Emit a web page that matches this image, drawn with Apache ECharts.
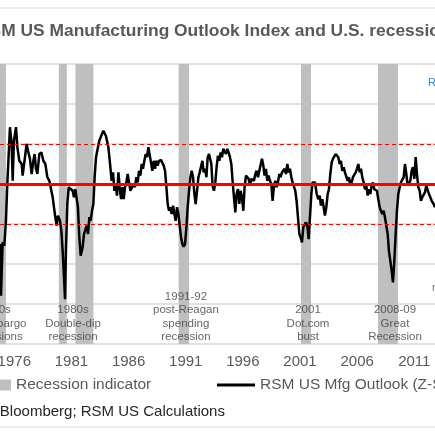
<!DOCTYPE html>
<html>
<head>
<meta charset="utf-8">
<title>RSM US Manufacturing Outlook Index</title>
<script src="https://cdn.jsdelivr.net/npm/echarts@6.0.0/dist/echarts.min.js"></script>
<style>
    html, body { margin: 0; padding: 0; background: #fff; }
    #main { width: 435px; height: 435px; }
</style>
</head>
<body>
<div id="main"></div>
<script type="text/javascript">
    // tick labels on the time axis
    var yearTicks = [1976, 1981, 1986, 1991, 1996, 2001, 2006, 2011];

    // recession bands (decimal years)
    var recStart = [1973.83, 1979.9, 1981.35, 1990.38, 2001.08, 2007.82];
    var recEnd   = [1975.27, 1980.6, 1982.92, 1991.29, 2001.96, 2009.57];

    // recession notes under the line
    var noteYears = [1974.33, 1981.14, 1991.02, 2001.7, 2009.31];
    var noteTexts = [
        '1970s\nOil embargo\nrecessions',
        '1980s\nDouble-dip\nrecession',
        '1991-92\npost-Reagan\nspending\nrecession',
        '2001\nDot.com\nbust',
        '2008-09\nGreat\nRecession'
    ];

    // RSM US Mfg Outlook (Z-score)
    var mfgYears = [
        1974.75, 1974.84, 1974.98, 1975.13, 1975.27, 1975.39, 1975.62, 1975.77, 1975.86, 1975.97,
        1976.15, 1976.27, 1976.44, 1976.65, 1976.73, 1976.85, 1976.97, 1977.08, 1977.2, 1977.37,
        1977.52, 1977.67, 1977.78, 1977.9, 1978.02, 1978.19, 1978.37, 1978.54, 1978.72, 1978.89,
        1979.07, 1979.18, 1979.36, 1979.47, 1979.59, 1979.71, 1979.82, 1980.0, 1980.12, 1980.23,
        1980.35, 1980.44, 1980.52, 1980.64, 1980.76, 1980.93, 1981.11, 1981.22, 1981.34, 1981.46,
        1981.57, 1981.69, 1981.81, 1981.98, 1982.1, 1982.22, 1982.33, 1982.45, 1982.57, 1982.68,
        1982.8, 1982.92, 1983.03, 1983.15, 1983.32, 1983.44, 1983.56, 1983.67, 1983.79, 1983.91,
        1984.02, 1984.23, 1984.38, 1984.52, 1984.64, 1984.76, 1984.87, 1984.99, 1985.11, 1985.22,
        1985.34, 1985.46, 1985.57, 1985.69, 1985.81, 1985.92, 1986.04, 1986.16, 1986.27, 1986.45,
        1986.56, 1986.68, 1986.8, 1986.91, 1987.03, 1987.15, 1987.26, 1987.38, 1987.5, 1987.61,
        1987.73, 1987.85, 1987.96, 1988.08, 1988.2, 1988.31, 1988.43, 1988.55, 1988.66, 1988.84,
        1988.96, 1989.07, 1989.19, 1989.31, 1989.42, 1989.54, 1989.66, 1989.77, 1989.89, 1990.01,
        1990.12, 1990.24, 1990.36, 1990.47, 1990.59, 1990.71, 1990.82, 1990.94, 1991.06, 1991.17,
        1991.29, 1991.41, 1991.52, 1991.64, 1991.76, 1991.87, 1991.99, 1992.11, 1992.22, 1992.34,
        1992.46, 1992.57, 1992.69, 1992.81, 1992.92, 1993.04, 1993.24, 1993.35, 1993.47, 1993.59,
        1993.7, 1993.82, 1993.94, 1994.05, 1994.17, 1994.29, 1994.4, 1994.52, 1994.64, 1994.75,
        1994.87, 1994.99, 1995.1, 1995.22, 1995.34, 1995.45, 1995.57, 1995.69, 1995.8, 1995.92,
        1996.04, 1996.15, 1996.27, 1996.39, 1996.5, 1996.62, 1996.74, 1996.85, 1996.97, 1997.09,
        1997.2, 1997.32, 1997.44, 1997.55, 1997.67, 1997.79, 1997.9, 1998.02, 1998.14, 1998.25,
        1998.37, 1998.49, 1998.6, 1998.72, 1998.84, 1998.95, 1999.07, 1999.19, 1999.3, 1999.42,
        1999.54, 1999.65, 1999.77, 1999.89, 2000.0, 2000.12, 2000.24, 2000.35, 2000.47, 2000.59,
        2000.7, 2000.82, 2000.94, 2001.05, 2001.17, 2001.29, 2001.4, 2001.52, 2001.64, 2001.75,
        2001.87, 2001.99, 2002.1, 2002.22, 2002.31, 2002.46, 2002.6, 2002.72, 2002.83, 2002.95,
        2003.07, 2003.18, 2003.3, 2003.42, 2003.53, 2003.65, 2003.77, 2003.88, 2004.0, 2004.12,
        2004.23, 2004.35, 2004.47, 2004.58, 2004.7, 2004.82, 2004.93, 2005.05, 2005.17, 2005.28,
        2005.4, 2005.52, 2005.63, 2005.75, 2005.87, 2005.98, 2006.1, 2006.22, 2006.33, 2006.45,
        2006.57, 2006.68, 2006.8, 2006.92, 2007.03, 2007.15, 2007.27, 2007.38, 2007.5, 2007.62,
        2007.73, 2007.85, 2007.97, 2008.08, 2008.2, 2008.32, 2008.43, 2008.55, 2008.67, 2008.78,
        2008.9, 2009.02, 2009.13, 2009.25, 2009.37, 2009.48, 2009.6, 2009.72, 2009.83, 2009.95,
        2010.07, 2010.18, 2010.3, 2010.42, 2010.53, 2010.65, 2010.77, 2010.88, 2011.0, 2011.12,
        2011.23, 2011.35, 2011.47, 2011.58, 2011.7, 2011.82, 2011.93, 2012.05, 2012.17, 2012.28,
        2012.4, 2012.52, 2012.69, 2012.8
    ];
    var mfgValues = [
        -1.5, -2.79, -1.46, -1.54, -0.92, 0, 1.42, 1.0, 0.08, 1.08,
        1.42, 0.92, 0.58, 0.5, 0.21, 0.25, 0.75, 1.0, 0.83, 0.63,
        0.25, 0.58, 0.75, 0.38, 0.25, 0.75, 0.79, 0.58, 0.5, 0.17,
        0.08, -0.08, -0.33, -0.58, -0.83, -1.04, -0.79, -0.92, -1.17, -1.67,
        -2.33, -2.88, -1.67, -0.5, -0.08, -0.07, -0.17, -0.33, -0.13, -0.17,
        -0.58, -1.33, -1.79, -1.58, -1.25, -1.21, -1.04, -1.25, -0.83, -0.92,
        -0.67, -0.5, 0.17, 0.67, 0.92, 1.08, 1.17, 1.25, 1.33, 1.29,
        1.2, 0.92, 0.5, 0.08, 0.29, -0.17, -0.04, -0.29, 0.29, -0.08,
        -0.38, -0.08, -0.38, -0.08, 0.04, 0.25, 0.04, -0.17, -0.21, 0,
        -0.08, 0.17, 0.04, 0.33, 0.21, 0.5, 0.38, 0.58, 0.75, 0.67,
        0.92, 0.96, 0.54, 0.33, 0.58, 0.38, 0.58, 0.46, 0.58, 0.6,
        0.63, 0.46, 0.33, -0.08, -0.5, -0.67, -0.58, -0.75, -0.54, -0.75,
        -0.92, -0.58, -0.75, -1.04, -1.33, -1.5, -1.57, -1.5, -1.08, -0.58,
        -0.17, 0.17, 0.33, 0.17, -0.25, -0.5, -0.17, 0.17, 0.29, 0.33,
        0.58, 0.29, 0.38, 0.17, 0.67, 0.75, 0.5, -0.04, -0.17, 0.04,
        0.42, 0.71, 0.58, 0.79, 0.67, 0.88, 0.83, 0.75, 0.88, 0.79,
        0.67, 0.5, 0.08, -0.33, -0.71, -0.25, -0.13, -0.5, -0.17, -0.33,
        -0.67, -0.08, 0.21, 0.25, 0.13, -0.04, 0.13, 0.17, 0.08, 0.25,
        0.33, 0.17, 0.33, 0.33, 0.63, 0.46, 0.21, 0.38, 0.08, 0.21,
        0.08, 0, -0.42, -0.04, 0.08, -0.08, 0.04, 0.25, 0.17, 0.29,
        0.25, 0.38, 0.25, 0.5, 0.29, 0.38, 0.17, 0.04, 0, -0.17,
        -0.42, -0.83, -1.25, -1.33, -1.46, -1.08, -1.13, -0.96, -1.04, -1.38,
        -0.83, -0.25, 0.04, 0.08, 0.04, -0.25, -0.38, -0.29, -0.54, -0.38,
        -0.58, -0.79, -0.58, -0.25, -0.13, 0.25, 0.54, 0.63, 0.67, 0.75,
        0.79, 0.67, 0.5, 0.58, 0.33, 0.42, 0.29, 0.33, 0.08, 0.17,
        -0.04, 0.04, 0.17, 0.21, 0.29, 0.38, 0.5, 0.29, 0.38, 0.17,
        0.04, -0.13, -0.04, -0.29, -0.13, -0.25, -0.04, 0.04, -0.13, -0.08,
        -0.17, -0.38, -0.58, -0.67, -0.75, -0.67, -0.83, -0.88, -1.25, -1.67,
        -1.92, -2.17, -2.46, -1.92, -1.25, -0.67, -0.25, -0.08, 0.04, 0,
        0.17, 0.5, 0.25, -0.04, -0.08, 0.08, 0.33, 0.42, 0.13, 0.67,
        0.25, -0.08, -0.17, -0.42, -0.33, -0.38, -0.21, -0.04, -0.08, -0.25,
        -0.33, -0.42, -0.5, -0.58
    ];

    var myChart = echarts.init(document.getElementById('main'));
    var font = '"Liberation Sans", Arial, sans-serif';

    var recAreas = recStart.map(function (s, i) {
        return [{ xAxis: s }, { xAxis: recEnd[i] }];
    });
    var mfgData = mfgYears.map(function (y, i) {
        return [y, mfgValues[i]];
    });
    var noteData = noteYears.map(function (y, i) {
        return { name: noteTexts[i], value: [y, -4] };
    });

    var option = {
        animation: false,
        title: {
            text: 'RSM US Manufacturing Outlook Index and U.S. recessions',
            left: -23,
            top: 23,
            padding: 0,
            textStyle: { fontFamily: font, fontSize: 17.4, fontWeight: 'bold', color: '#595959' }
        },
        grid: { left: 0, right: 0, top: 64, bottom: 91, containLabel: false, outerBoundsMode: 'none' },
        xAxis: {
            type: 'value',
            min: 1974.75,
            max: 2012.81,
            axisLine: { show: false },
            axisTick: { show: false },
            splitLine: { show: false },
            axisLabel: {
                customValues: yearTicks,
                formatter: function (v) { return String(v); },
                margin: 10,
                fontSize: 15,
                color: '#595959',
                fontFamily: font
            }
        },
        yAxis: {
            type: 'value',
            min: -4,
            max: 3,
            interval: 1,
            axisLabel: { show: false },
            axisLine: { show: false },
            axisTick: { show: false },
            splitLine: { lineStyle: { color: '#d9d9d9', width: 1.5 } }
        },
        legend: [{
            left: 0,
            top: 377,
            padding: 0,
            selectedMode: false,
            itemWidth: 11,
            itemHeight: 11,
            data: [{ name: 'Recession indicator', icon: 'rect' }],
            textStyle: { fontFamily: font, fontSize: 15.5, color: '#595959' }
        }, {
            left: 217,
            top: 377,
            padding: 0,
            selectedMode: false,
            itemWidth: 38,
            itemHeight: 3,
            data: [{ name: 'RSM US Mfg Outlook (Z-Score)', icon: 'rect' }],
            textStyle: { fontFamily: font, fontSize: 15.5, color: '#595959' }
        }],
        graphic: [
            { type: 'line', shape: { x1: 0, y1: 8, x2: 435, y2: 8 }, style: { stroke: '#d9d9d9', lineWidth: 1 } },
            { type: 'line', shape: { x1: 0, y1: 427, x2: 435, y2: 427 }, style: { stroke: '#d9d9d9', lineWidth: 1 } },
            {
                type: 'text', x: -56, y: 412,
                style: { text: 'Source: Bloomberg; RSM US Calculations', fill: '#262626',
                         font: '15px "Liberation Sans", Arial', verticalAlign: 'middle' }
            },
            {
                type: 'text', x: 428, y: 83,
                style: { text: 'Rising', fill: '#2e86de', font: '11px "Liberation Sans", Arial', verticalAlign: 'middle' }
            },
            {
                type: 'text', x: 432, y: 288,
                style: { text: 'recession', fill: '#2e86de', font: '11px "Liberation Sans", Arial', verticalAlign: 'middle' }
            }
        ],
        series: [{
            name: 'Recession indicator',
            type: 'line',
            data: [],
            itemStyle: { color: '#bfbfbf' },
            lineStyle: { color: '#bfbfbf' },
            markArea: {
                silent: true,
                itemStyle: { color: '#bfbfbf' },
                data: recAreas
            }
        }, {
            name: 'RSM US Mfg Outlook (Z-Score)',
            type: 'line',
            data: mfgData,
            symbol: 'none',
            z: 3,
            itemStyle: { color: '#000' },
            lineStyle: { color: '#000', width: 2.5 }
        }, {
            name: 'ref',
            type: 'line',
            data: [],
            z: 5,
            markLine: {
                silent: true,
                symbol: 'none',
                label: { show: false },
                data: [
                    { yAxis: 0, lineStyle: { color: '#ff0000', width: 3, type: 'solid' } },
                    { yAxis: 1, lineStyle: { color: '#ff0000', width: 1, type: [4, 3] } },
                    { yAxis: -1, lineStyle: { color: '#ff0000', width: 1, type: [4, 3] } }
                ]
            }
        }, {
            name: 'notes',
            type: 'scatter',
            data: noteData,
            clip: false,
            silent: true,
            symbolSize: 0,
            z: 6,
            label: {
                show: true,
                position: 'top',
                distance: 0,
                formatter: '{b}',
                align: 'center',
                fontFamily: font,
                fontSize: 11.5,
                lineHeight: 13.5,
                color: '#404040'
            }
        }]
    };

    myChart.setOption(option);
</script>
</body>
</html>
